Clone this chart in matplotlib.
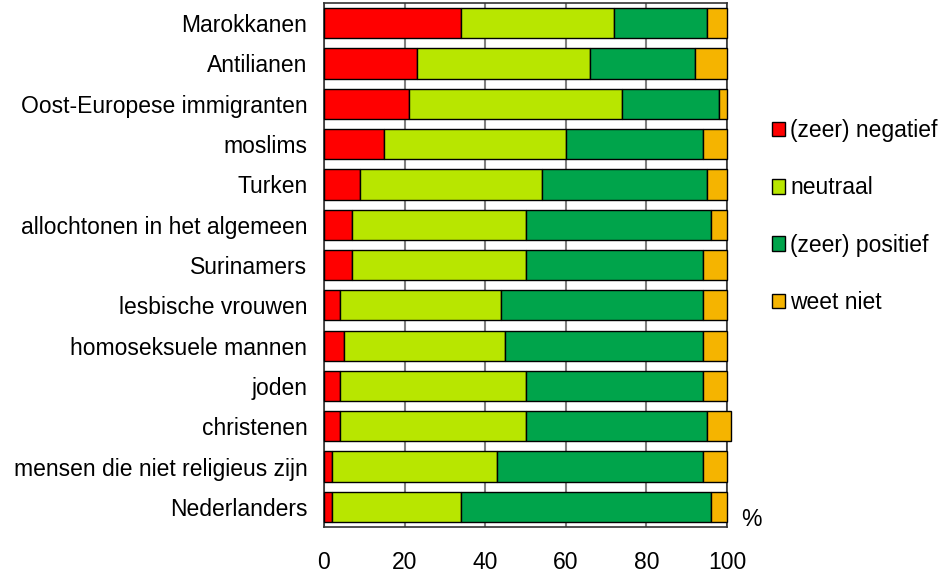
import numpy as np
import matplotlib
matplotlib.use('Agg')
import matplotlib.pyplot as plt

categories = ['Marokkanen', 'Antilianen', 'Oost-Europese immigranten', 'moslims',
              'Turken', 'allochtonen in het algemeen', 'Surinamers',
              'lesbische vrouwen', 'homoseksuele mannen', 'joden', 'christenen',
              'mensen die niet religieus zijn', 'Nederlanders']
negatief = [34, 23, 21, 15, 9, 7, 7, 4, 5, 4, 4, 2, 2]
neutraal = [38, 43, 53, 45, 45, 43, 43, 40, 40, 46, 46, 41, 32]
positief = [23, 26, 24, 34, 41, 46, 44, 50, 49, 44, 45, 51, 62]
weet_niet = [5, 8, 2, 6, 5, 4, 6, 6, 6, 6, 6, 6, 4]

series = [('(zeer) negatief', negatief, '#ff0000'),
          ('neutraal', neutraal, '#b8e600'),
          ('(zeer) positief', positief, '#00a44b'),
          ('weet niet', weet_niet, '#f5b400')]

plt.rcParams['font.family'] = ['Liberation Sans', 'DejaVu Sans']
fs = 16.5

fig = plt.figure(figsize=(9.49, 5.76), dpi=100)
ax = fig.add_axes([324 / 949, 1 - 527 / 576, 403 / 949, 524 / 576])

y = np.arange(len(categories))
left = np.zeros(len(categories))
handles = []
for name, vals, col in series:
    b = ax.barh(y, vals, left=left, height=0.75, color=col, edgecolor='black',
                linewidth=1, label=name, zorder=3, clip_on=False)
    handles.append(b)
    left += np.array(vals)

ax.set_xlim(0, 100)
ax.set_ylim(len(categories) - 0.5, -0.5)
ax.set_yticks(y)
ax.set_yticklabels(categories, fontsize=fs)
ax.set_xticks([0, 20, 40, 60, 80, 100])
ax.tick_params(axis='x', length=0, pad=17, labelsize=fs)
ax.tick_params(axis='y', length=0, pad=12)
ax.grid(axis='x', color='#808080', linewidth=1.5, zorder=0)
for s in ax.spines.values():
    s.set_color('#333333')
    s.set_linewidth(1.2)

fig.text(751 / 949, 1 - 519 / 576, '%', fontsize=fs, ha='center', va='center')

fig.legend(handles=handles, loc='center left', bbox_to_anchor=(751 / 949, 1 - 216.5 / 576),
           frameon=False, fontsize=16.5, handlelength=0.6, handleheight=0.6,
           handletextpad=0.2, labelspacing=1.5)

fig.savefig('out.png', dpi=100)
